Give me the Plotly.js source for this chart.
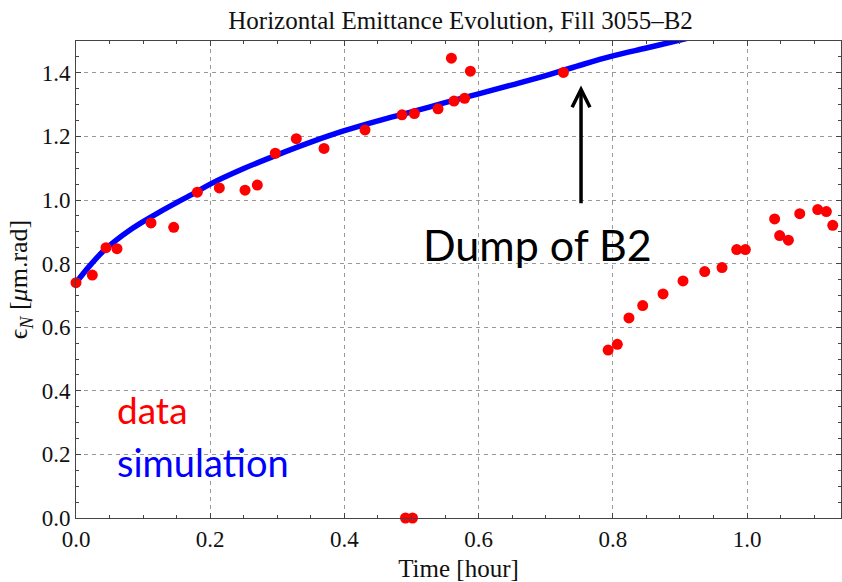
<!DOCTYPE html>
<html>
<head>
<meta charset="utf-8">
<script src="https://cdn.plot.ly/plotly-3.0.1.min.js"></script>
<style>html,body{margin:0;padding:0;background:#fff;}#chart{width:842px;height:582px;}</style>
</head>
<body>
<div id="chart"></div>
<script>
// measured data points (time in hours, normalized emittance in um.rad)
const dataTime = [0.0, 0.0243, 0.0447, 0.0611, 0.1118, 0.1456, 0.1808, 0.2136, 0.2519, 0.2702,
  0.297, 0.3283, 0.3696, 0.4307, 0.4858, 0.5042, 0.5395, 0.5594, 0.5633, 0.5792, 0.5877, 0.7263,
  0.491, 0.5015,
  0.793, 0.8067, 0.824, 0.8445, 0.8748, 0.9046, 0.9369, 0.9627, 0.9846, 0.9975, 1.0411, 1.0486,
  1.0616, 1.0785, 1.1053, 1.1182, 1.1277];
const dataEmit = [0.74, 0.764, 0.850, 0.847, 0.928, 0.914, 1.0245, 1.038, 1.031, 1.047,
  1.147, 1.193, 1.162, 1.2205, 1.268, 1.272, 1.2866, 1.446, 1.311, 1.320, 1.405, 1.401,
  0.0, 0.0,
  0.528, 0.546, 0.629, 0.668, 0.7046, 0.7455, 0.775, 0.7876, 0.844, 0.844, 0.9405, 0.888,
  0.8735, 0.957, 0.970, 0.9636, 0.9205];

// simulation curve
const simTime = [0, 0.02, 0.04, 0.06, 0.08, 0.1, 0.125, 0.15, 0.175, 0.2, 0.25, 0.3, 0.35, 0.4,
  0.45, 0.5, 0.55, 0.6, 0.65, 0.7, 0.75, 0.8, 0.85, 0.9, 0.92];
const simEmit = [0.74, 0.792, 0.838, 0.874, 0.905, 0.932, 0.963, 0.992, 1.02, 1.05, 1.099, 1.142,
  1.182, 1.218, 1.249, 1.277, 1.306, 1.334, 1.362, 1.391, 1.423, 1.453, 1.478, 1.503, 1.513];

const xTicks = [0.0, 0.2, 0.4, 0.6, 0.8, 1.0];
const yTicks = [0.0, 0.2, 0.4, 0.6, 0.8, 1.0, 1.2, 1.4];

const serif = "Liberation Serif, Times New Roman, serif";
const sans = "Lato, Open Sans, sans-serif";

const traces = [
  {x: simTime, y: simEmit, type: 'scatter', mode: 'lines',
   line: {color: '#0000ff', width: 5.5, shape: 'spline', smoothing: 1}, hoverinfo: 'skip'},
  {x: dataTime, y: dataEmit, type: 'scatter', mode: 'markers',
   marker: {color: '#ff0000', size: 11}, cliponaxis: false}
];

const axCommon = {
  showline: true, linecolor: '#444', linewidth: 1, mirror: 'ticks',
  ticks: 'inside', ticklen: 5, tickcolor: '#444', tickwidth: 1,
  showgrid: true, gridcolor: '#999', gridwidth: 1, griddash: '4px,4px',
  zeroline: false, tickformat: '.1f',
  tickfont: {family: serif, size: 23, color: '#111'},
  minor: {dtick: 0.05, ticks: 'inside', ticklen: 3, tickcolor: '#444', showgrid: false}
};

const layout = {
  width: 842, height: 582,
  margin: {l: 76, r: 1, t: 41, b: 64},
  paper_bgcolor: '#fff', plot_bgcolor: '#fff',
  showlegend: false,
  title: {text: 'Horizontal Emittance Evolution, Fill 3055\u2013B2',
          font: {family: serif, size: 25, color: '#111'},
          x: 0.547, xanchor: 'center', y: 0.965, yanchor: 'middle', yref: 'container'},
  xaxis: Object.assign({}, axCommon, {
    range: [0, 1.14], tickvals: xTicks,
    title: {text: 'Time [hour]', font: {family: serif, size: 25, color: '#111'}, standoff: 10}
  }),
  yaxis: Object.assign({}, axCommon, {
    range: [0, 1.5], tickvals: yTicks,
    title: {text: '\u03f5<sub><i>N</i></sub> [<i>\u03bc</i>m.rad]',
            font: {family: serif, size: 26, color: '#111'}, standoff: 6}
  }),
  annotations: [
    {x: 0.7526, y: 1.36, ax: 0.7526, ay: 0.985, xref: 'x', yref: 'y', axref: 'x', ayref: 'y',
     text: '', showarrow: true, arrowhead: 5, arrowsize: 1, arrowwidth: 3.5, arrowcolor: '#000'},
    {x: 0.687, y: 0.859, xref: 'x', yref: 'y', text: 'Dump of B2', showarrow: false,
     font: {family: sans, size: 43, color: '#000'}, xanchor: 'center', yanchor: 'middle'},
    {x: 0.058, y: 0.34, xref: 'x', yref: 'y', text: 'data', showarrow: false,
     font: {family: sans, size: 37, color: '#ff0000'}, xanchor: 'left', yanchor: 'middle'},
    {x: 0.058, y: 0.176, xref: 'x', yref: 'y', text: 'simulation', showarrow: false,
     font: {family: sans, size: 38, color: '#0000ff'}, xanchor: 'left', yanchor: 'middle'}
  ]
};

Plotly.newPlot('chart', traces, layout, {displayModeBar: false, staticPlot: true});
</script>
</body>
</html>
